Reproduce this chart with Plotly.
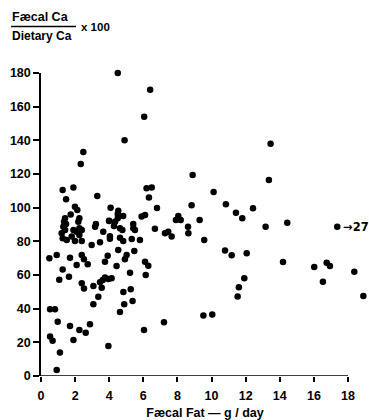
import plotly.graph_objects as go

# Faecal fat (g/day) and Faecal Ca / Dietary Ca x 100
fat = [
    4.5, 6.4, 6.05, 4.9, 2.48, 2.33, 13.46, 13.36, 8.89,
    1.27, 1.9, 1.47, 3.3, 4.08, 6.19, 6.49, 6.33, 6.8,
    1.99, 2.13, 10.12, 8.83, 10.84, 11.43, 11.8, 12.43,
    4.53, 4.5, 4.82, 3.99, 4.34, 4.5,
    1.41, 1.35, 1.47, 2.25, 2.19, 1.74,
    1.31, 1.41, 1.21, 1.27, 1.51, 1.8, 1.9, 2.09, 2.25, 2.39, 2.25, 1.99, 2.39,
    3.65, 4.04, 4.04, 4.28, 3.17, 3.22, 4.0,
    5.41, 5.9, 6.1, 7.91, 8.05, 8.19, 8.62, 9.3, 6.68,
    5.41, 5.51, 4.63, 4.77, 4.63, 4.82, 5.32, 5.8,
    7.27, 7.46, 7.66, 8.64, 9.57, 10.79, 11.18, 12.06, 11.92, 11.6, 11.53,
    9.52, 10.04, 7.21, 6.04,
    13.17, 14.44, 17.37, 14.19, 16.02, 16.75, 16.94, 16.53, 18.37, 18.9,
    4.53, 5.47, 3.91, 5.02, 4.92, 4.43, 6.1, 6.29, 5.22, 6.14,
    3.46, 3.62, 3.75, 3.95, 4.14, 3.56, 3.36, 3.07,
    5.26, 4.83, 5.37, 4.88, 4.63,
    2.87, 2.62, 2.25, 1.7, 1.9, 3.95,
    0.53, 0.82, 0.98, 0.53, 0.68, 1.11, 0.92,
    0.49, 0.92, 1.7, 2.39, 2.52, 2.97, 3.46, 3.75, 2.09, 2.74,
    1.27, 1.07, 1.64, 2.39, 2.52, 3.07,
]
ratio = [
    180, 170, 154, 140, 133, 126, 138, 116.5, 119.4,
    110.5, 112, 105, 107, 100, 111.5, 112, 106, 99.8,
    100.6, 98.6, 109.3, 101.4, 102, 97, 93.7, 99.6,
    98.2, 96.3, 95, 92.3, 91.7, 93.7,
    93.7, 91.7, 90.3, 93.7, 91.7, 96,
    88.7, 86.8, 84.8, 81.8, 80.8, 82.8, 86.8, 85.7, 87.8, 86.8, 83.8, 80.2, 80.2,
    85.7, 83.0, 81.5, 89.1, 88.7, 90.3, 92.1,
    90.3, 94.7, 95.7, 92.7, 95, 92.7, 88.7, 92.7, 87.5,
    87.8, 86.8, 87.8, 86.8, 82.2, 80.2, 81.4, 80.8,
    84.8, 85.7, 82.8, 84.8, 80.8, 74.5, 71.7, 72.9, 58, 52.7, 47.3,
    36, 36.6, 32, 27.3,
    88.7, 91.1, 88.7, 67.7, 64.8, 67.3, 65.4, 56, 62, 47.5,
    74.9, 74.3, 71.5, 71.9, 69.3, 65.4, 67.9, 65.5, 61.4, 60,
    55.7, 57, 58.5, 57.6, 58, 52.5, 47.1, 42.6,
    51.5, 49.9, 44.6, 42.6, 38,
    30.7, 25.7, 27.3, 29.7, 21.4, 17.8,
    39.6, 39.6, 32.3, 23.4, 21, 13.9, 3.6,
    69.9, 71.9, 70.3, 71.9, 69.3, 77.8, 79.5, 67.9, 66, 66.4,
    63.2, 57.2, 59, 55.1, 52, 53.5,
]

x_ticks = list(range(0, 19, 2))
y_ticks = list(range(0, 181, 20))
x_axis_end = 18

FONT = "Liberation Sans"

W, H = 369, 420
L, R, T, B = 41, 0, 73, 44
pw, ph = W - L - R, H - T - B
# axis line ends at 18 (pixel 348); the plot area extends to the right edge
x_max = x_axis_end * pw / (348 - L)

fig = go.Figure()
fig.add_trace(go.Scatter(
    x=fat, y=ratio, mode="markers",
    marker=dict(color="black", size=6.5, line=dict(width=0)),
    cliponaxis=False, showlegend=False, hoverinfo="skip",
))

def px(xp):
    return (xp - L) / pw

def py(yp):
    return (H - B - yp) / ph

fig.update_layout(
    width=W, height=H,
    margin=dict(l=L, r=R, t=T, b=B),
    paper_bgcolor="white", plot_bgcolor="white",
    font=dict(family=FONT, color="black", size=11),
    xaxis=dict(
        range=[0, x_max], tickvals=x_ticks, ticktext=[str(v) for v in x_ticks],
        showgrid=False, zeroline=False, showline=False,
        ticks="outside", ticklen=5, tickwidth=1.5, tickcolor="black",
        ticklabelstandoff=3,
        tickfont=dict(family=FONT, size=12.5, weight="bold"),
        title=dict(text="Fæcal Fat — g / day", font=dict(family=FONT, size=12.5, weight="bold"), standoff=9),
    ),
    yaxis=dict(
        range=[0, 180], tickvals=y_ticks, ticktext=[str(v) for v in y_ticks],
        showgrid=False, zeroline=False, showline=True, linecolor="black", linewidth=1.5,
        ticks="outside", ticklen=6, tickwidth=1.5, tickcolor="black",
        tickfont=dict(family=FONT, size=12.5, weight="bold"),
    ),
)

# x-axis line from 0 to 18
fig.add_shape(type="line", xref="x", yref="y", x0=0, x1=x_axis_end, y0=0, y1=0,
              line=dict(color="black", width=1.5), layer="above")

# y-axis title as a fraction in the top-left corner
fig.add_annotation(text="Fæcal Ca", x=px(10), y=py(17), xref="paper", yref="paper",
                   xanchor="left", yanchor="middle", showarrow=False,
                   font=dict(family=FONT, size=12.5, weight="bold"))
fig.add_annotation(text="Dietary Ca", x=px(10), y=py(36), xref="paper", yref="paper",
                   xanchor="left", yanchor="middle", showarrow=False,
                   font=dict(family=FONT, size=12, weight="bold"))
fig.add_annotation(text="x 100", x=px(79), y=py(27), xref="paper", yref="paper",
                   xanchor="left", yanchor="middle", showarrow=False,
                   font=dict(family=FONT, size=11.5, weight="bold"))
fig.add_shape(type="line", xref="paper", yref="paper",
              x0=px(11), x1=px(76), y0=py(26.5), y1=py(26.5),
              line=dict(color="black", width=1.3))

# off-scale point marker
fig.add_annotation(text="→27", x=17.6, y=88.7, xref="x", yref="y",
                   xanchor="left", yanchor="middle", showarrow=False,
                   font=dict(family="DejaVu Sans", size=11.5, weight="bold"))

fig.write_html("out.html")
